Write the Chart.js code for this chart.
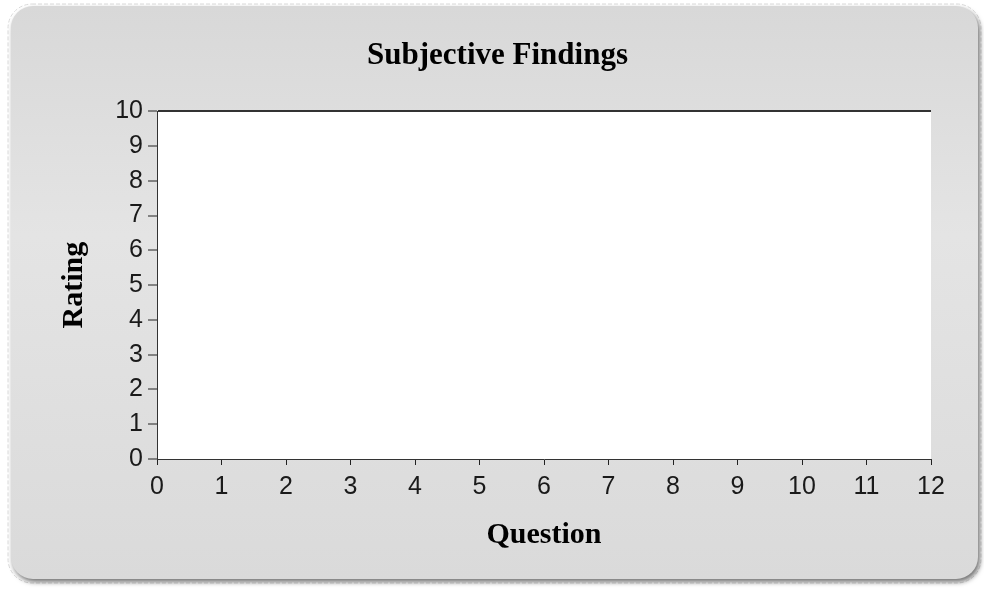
<!DOCTYPE html>
<html>
<head>
<meta charset="utf-8">
<script src="https://cdn.jsdelivr.net/npm/chart.js@4/dist/chart.umd.min.js"></script>
<style>
  html, body { margin: 0; padding: 0; background: #ffffff; }
  #wrap { width: 984px; height: 589px; }
</style>
</head>
<body>
<div id="wrap"><canvas id="chart"></canvas></div>
<script>
// chart data (the chart has no plotted points)
const questions = [];
const ratings = [];

// axis ranges / tick labels
const xRange = [0, 12];
const yRange = [0, 10];

const chartTitle = 'Subjective Findings';
const xTitle = 'Question';
const yTitle = 'Rating';

const points = questions.map((q, i) => ({ x: q, y: ratings[i] }));

// grey rounded panel behind the chart + white plot area
const panelPlugin = {
    id: 'panel',
    beforeDraw(chart) {
        const ctx = chart.ctx;
        const x = 11, y = 6, w = 967, h = 573, r = 22;
        ctx.save();
        // dashed outline
        ctx.beginPath();
        ctx.roundRect(x - 3, y - 2, w + 6, h + 6, r + 2);
        ctx.setLineDash([4, 2]);
        ctx.strokeStyle = '#dadada';
        ctx.lineWidth = 1;
        ctx.stroke();
        ctx.setLineDash([]);
        // shadow + gradient fill
        ctx.shadowColor = 'rgba(0,0,0,0.55)';
        ctx.shadowBlur = 5;
        ctx.shadowOffsetX = 2;
        ctx.shadowOffsetY = 3;
        const g = ctx.createLinearGradient(0, y, 0, y + h);
        g.addColorStop(0, '#d8d8d8');
        g.addColorStop(0.4, '#e4e4e4');
        g.addColorStop(1, '#dadada');
        ctx.fillStyle = g;
        ctx.beginPath();
        ctx.roundRect(x, y, w, h, r);
        ctx.fill();
        ctx.restore();

        const a = chart.chartArea;
        ctx.save();
        ctx.fillStyle = '#ffffff';
        ctx.fillRect(a.left, a.top, a.right - a.left, a.bottom - a.top);
        ctx.restore();
    }
};

new Chart(document.getElementById('chart').getContext('2d'), {
    type: 'scatter',
    data: {
        datasets: [{
            label: 'Rating',
            data: points,
            backgroundColor: '#1f4e9a'
        }]
    },
    options: {
        responsive: true,
        maintainAspectRatio: false,
        animation: false,
        layout: {
            padding: { left: 11, right: 0, top: 0, bottom: 0 }
        },
        scales: {
            x: {
                type: 'linear',
                min: xRange[0],
                max: xRange[1],
                afterFit: (s) => { s.height = 130; },
                ticks: {
                    stepSize: 1,
                    padding: 7,
                    color: '#1a1a1a',
                    font: { family: 'Liberation Sans', size: 25 }
                },
                grid: {
                    drawOnChartArea: false,
                    drawTicks: true,
                    tickLength: 6,
                    tickColor: '#222222',
                    tickWidth: 1
                },
                border: { display: true, color: '#333333', width: 1 },
                title: {
                    display: true,
                    text: xTitle,
                    color: '#000000',
                    padding: { top: 0, bottom: 36 },
                    font: { family: 'Liberation Serif', size: 30, weight: 'bold' }
                }
            },
            y: {
                type: 'linear',
                min: yRange[0],
                max: yRange[1],
                afterFit: (s) => { s.width = 146; },
                ticks: {
                    stepSize: 1,
                    padding: 5,
                    color: '#1a1a1a',
                    font: { family: 'Liberation Sans', size: 25 }
                },
                grid: {
                    drawOnChartArea: true,
                    color: (c) => (c.tick && c.tick.value === yRange[1]) ? '#333333' : 'rgba(0,0,0,0)',
                    lineWidth: 2,
                    tickLength: 9,
                    tickColor: '#222222',
                    tickWidth: 1
                },
                border: { display: true, color: '#333333', width: 1 },
                title: {
                    display: true,
                    text: yTitle,
                    color: '#000000',
                    padding: { top: 45, bottom: 0 },
                    font: { family: 'Liberation Serif', size: 30, weight: 'bold' }
                }
            },
            yRight: {
                type: 'linear',
                position: 'right',
                display: true,
                afterFit: (s) => { s.width = 53; },
                ticks: { display: false },
                grid: { display: false },
                border: { display: false }
            }
        },
        plugins: {
            legend: { display: false },
            tooltip: { enabled: false },
            title: {
                display: true,
                text: chartTitle,
                color: '#000000',
                padding: { top: 37, bottom: 37 },
                font: { family: 'Liberation Serif', size: 31, weight: 'bold' }
            }
        }
    },
    plugins: [panelPlugin]
});
</script>
</body>
</html>
